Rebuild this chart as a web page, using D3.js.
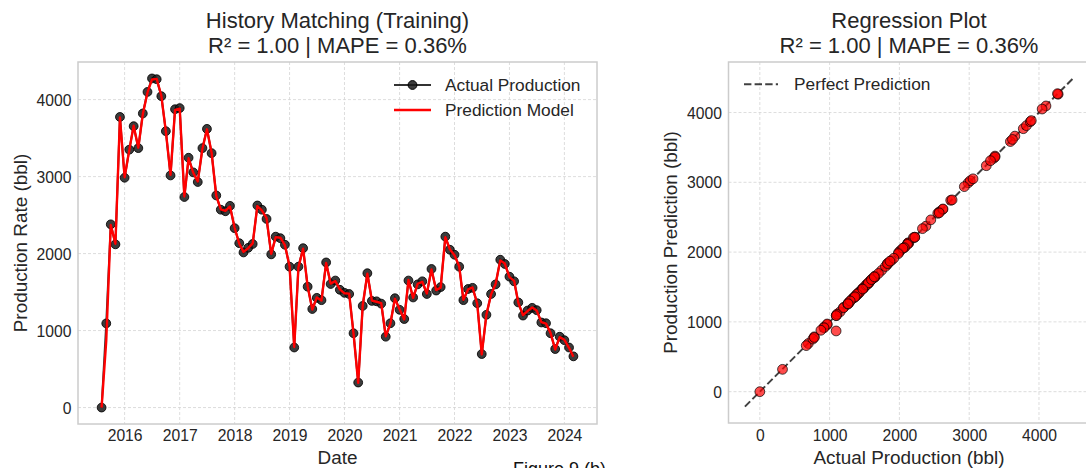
<!DOCTYPE html>
<html>
<head>
<meta charset="utf-8">
<script src="https://cdn.jsdelivr.net/npm/d3@7"></script>
<style>
  html, body { margin: 0; padding: 0; background: #fff; overflow: hidden; }
  svg { display: block; font-family: "Liberation Sans", Arial, sans-serif; }
</style>
</head>
<body>
<svg id="fig" width="1086" height="468"></svg>
<script>
// Monthly production, Aug 2015 – Mar 2024 (bbl)
const actualProduction = [
  0, 1093, 2380, 2120, 3775, 2985, 3350, 3655, 3370, 3820, 4100, 4275, 4265, 4045, 3590, 3015,
  3875, 3890, 2735, 3245, 3055, 2930, 3370, 3620, 3305, 2755, 2570, 2550, 2620, 2330, 2135, 2015,
  2075, 2125, 2625, 2570, 2450, 1990, 2220, 2200, 2115, 1830, 780, 1830, 2070, 1570, 1280, 1425,
  1395, 1885, 1605, 1650, 1530, 1490, 1475, 965, 325, 1320, 1745, 1385, 1380, 1350, 920, 1095,
  1420, 1270, 1150, 1650, 1430, 1600, 1640, 1475, 1800, 1520, 1565, 2220, 2050, 1985, 1830, 1395,
  1540, 1555, 1355, 695, 1205, 1475, 1600, 1920, 1865, 1700, 1640, 1365, 1195, 1260, 1295, 1265,
  1105, 1095, 965, 760, 920, 875, 780, 665
];
const predictedProduction = [
  0, 870, 2372, 2128, 3768, 2992, 3344, 3662, 3376, 3812, 4094, 4262, 4270, 4050, 3584, 3022,
  3868, 3884, 2742, 3238, 3050, 2938, 3362, 3614, 3310, 2748, 2575, 2556, 2612, 2336, 2128, 2022,
  2070, 2132, 2618, 2562, 2462, 1996, 2214, 2206, 2110, 1836, 786, 1824, 2064, 1576, 1274, 1430,
  1390, 1878, 1610, 1644, 1536, 1484, 1480, 960, 320, 1326, 1738, 1390, 1374, 1356, 926, 1090,
  1414, 1276, 1144, 1656, 1424, 1606, 1634, 1481, 1794, 1526, 1558, 2212, 2056, 1978, 1836, 1400,
  1534, 1560, 1348, 690, 1210, 1470, 1606, 1912, 1870, 1694, 1646, 1360, 1200, 1254, 1300, 1260,
  1110, 1090, 970, 754, 915, 880, 776, 660
];
const firstMonth = new Date(2015, 7, 1);
const lastMonth = new Date(2024, 2, 1);
const yearTickLabels = ["2016", "2017", "2018", "2019", "2020", "2021", "2022", "2023", "2024"];
const valueTicks = [0, 1000, 2000, 3000, 4000];
const leftTitle = ["History Matching (Training)", "R\u00b2 = 1.00 | MAPE = 0.36%"];
const rightTitle = ["Regression Plot", "R\u00b2 = 1.00 | MAPE = 0.36%"];

const months = d3.timeMonth.range(firstMonth, d3.timeMonth.offset(lastMonth, 1));
const series = months.map((d, i) => ({ date: d, actual: actualProduction[i], pred: predictedProduction[i] }));

const svg = d3.select("#fig");
const textColor = "#262626";
const gridColor = "#d4d4d4";
const frameColor = "#cccccc";
const font = "Liberation Sans, Arial, sans-serif";

function pad(ext, f = 0.05) {
  const s = ext[1] - ext[0];
  return [ext[0] - s * f, ext[1] + s * f];
}

// ---------- left panel: history match ----------
const L = { x0: 78, x1: 597, y0: 62, y1: 424 };
const tExt = d3.extent(months, d => +d);
const xL = d3.scaleTime().domain(pad(tExt).map(v => new Date(v))).range([L.x0, L.x1]);
const yExt = pad([Math.min(d3.min(actualProduction), d3.min(predictedProduction)),
                  Math.max(d3.max(actualProduction), d3.max(predictedProduction))]);
const yL = d3.scaleLinear().domain(yExt).range([L.y1, L.y0]);

const gL = svg.append("g");
const yearDates = yearTickLabels.map(y => new Date(+y, 0, 1));

gL.append("g").selectAll("line").data(yearDates).join("line")
  .attr("x1", d => xL(d)).attr("x2", d => xL(d))
  .attr("y1", L.y0).attr("y2", L.y1)
  .attr("stroke", gridColor).attr("stroke-width", 0.8).attr("stroke-dasharray", "3,2");
gL.append("g").selectAll("line").data(valueTicks).join("line")
  .attr("x1", L.x0).attr("x2", L.x1)
  .attr("y1", d => yL(d)).attr("y2", d => yL(d))
  .attr("stroke", gridColor).attr("stroke-width", 0.8).attr("stroke-dasharray", "3,2");

gL.append("rect").attr("x", L.x0).attr("y", L.y0)
  .attr("width", L.x1 - L.x0).attr("height", L.y1 - L.y0)
  .attr("fill", "none").attr("stroke", frameColor).attr("stroke-width", 1.5);

// x axis (years)
const xAxisL = d3.axisBottom(xL).tickValues(yearDates).tickFormat((d, i) => yearTickLabels[i]).tickSize(0).tickPadding(0);
gL.append("g").attr("transform", `translate(0,${L.y1})`).call(xAxisL)
  .call(g => g.select(".domain").remove())
  .selectAll("text").attr("y", 16.5).attr("dy", 0)
  .attr("fill", textColor).attr("font-size", 15.7).attr("font-family", font);

const yAxisL = d3.axisLeft(yL).tickValues(valueTicks).tickFormat(d3.format("d")).tickSize(0).tickPadding(0);
gL.append("g").attr("transform", `translate(${L.x0},0)`).call(yAxisL)
  .call(g => g.select(".domain").remove())
  .selectAll("text").attr("x", -6.5).attr("dy", "0.35em")
  .attr("fill", textColor).attr("font-size", 15.7).attr("font-family", font);

// actual production: dark line with circle markers, prediction in red on top
const lineActual = d3.line().x(d => xL(d.date)).y(d => yL(d.actual));
const linePred = d3.line().x(d => xL(d.date)).y(d => yL(d.pred));
gL.append("path").datum(series).attr("d", lineActual)
  .attr("fill", "none").attr("stroke", "#000").attr("stroke-opacity", 0.8).attr("stroke-width", 2);
gL.append("g").selectAll("circle").data(series).join("circle")
  .attr("cx", d => xL(d.date)).attr("cy", d => yL(d.actual)).attr("r", 4.4)
  .attr("fill", "#1a1a1a").attr("fill-opacity", 0.85)
  .attr("stroke", "#000").attr("stroke-opacity", 0.85).attr("stroke-width", 1);
gL.append("path").datum(series).attr("d", linePred)
  .attr("fill", "none").attr("stroke", "#ff0000").attr("stroke-width", 2.4)
  .attr("stroke-linejoin", "round");

// titles and labels
const titleL = gL.append("text").attr("text-anchor", "middle").attr("fill", textColor).attr("font-size", 22);
leftTitle.forEach((t, i) => titleL.append("tspan").attr("x", (L.x0 + L.x1) / 2).attr("y", 28.3 + i * 24.4).text(t));
gL.append("text").attr("x", (L.x0 + L.x1) / 2).attr("y", 464).attr("text-anchor", "middle")
  .attr("fill", textColor).attr("font-size", 18.9).text("Date");
gL.append("text").attr("transform", `translate(27,${(L.y0 + L.y1) / 2}) rotate(-90)`)
  .attr("text-anchor", "middle").attr("fill", textColor).attr("font-size", 18.9).text("Production Rate (bbl)");

// legend
const legL = gL.append("g");
legL.append("line").attr("x1", 394).attr("x2", 431).attr("y1", 85).attr("y2", 85)
  .attr("stroke", "#000").attr("stroke-opacity", 0.8).attr("stroke-width", 2);
legL.append("circle").attr("cx", 412.5).attr("cy", 85).attr("r", 4.4)
  .attr("fill", "#1a1a1a").attr("fill-opacity", 0.85).attr("stroke", "#000").attr("stroke-width", 1);
legL.append("text").attr("x", 445).attr("y", 85).attr("dy", "0.35em").attr("fill", textColor)
  .attr("font-size", 17.3).text("Actual Production");
legL.append("line").attr("x1", 394).attr("x2", 431).attr("y1", 110).attr("y2", 110)
  .attr("stroke", "#ff0000").attr("stroke-width", 2.4);
legL.append("text").attr("x", 445).attr("y", 110).attr("dy", "0.35em").attr("fill", textColor)
  .attr("font-size", 17.3).text("Prediction Model");

// ---------- right panel: regression ----------
const R = { x0: 728.5, y0: 62, y1: 423 };
R.x1 = R.x0 + (R.y1 - R.y0);
const diag = yExt;                  // perfect-prediction line spans the padded value range
const dom = pad(diag);
const xR = d3.scaleLinear().domain(dom).range([R.x0, R.x1]);
const yR = d3.scaleLinear().domain(dom).range([R.y1, R.y0]);

const gR = svg.append("g");
gR.append("g").selectAll("line").data(valueTicks).join("line")
  .attr("x1", d => xR(d)).attr("x2", d => xR(d)).attr("y1", R.y0).attr("y2", R.y1)
  .attr("stroke", gridColor).attr("stroke-width", 0.8).attr("stroke-dasharray", "3,2");
gR.append("g").selectAll("line").data(valueTicks).join("line")
  .attr("x1", R.x0).attr("x2", R.x1).attr("y1", d => yR(d)).attr("y2", d => yR(d))
  .attr("stroke", gridColor).attr("stroke-width", 0.8).attr("stroke-dasharray", "3,2");
gR.append("rect").attr("x", R.x0).attr("y", R.y0)
  .attr("width", R.x1 - R.x0).attr("height", R.y1 - R.y0)
  .attr("fill", "none").attr("stroke", frameColor).attr("stroke-width", 1.5);

const xAxisR = d3.axisBottom(xR).tickValues(valueTicks).tickFormat(d3.format("d")).tickSize(0).tickPadding(0);
gR.append("g").attr("transform", `translate(0,${R.y1})`).call(xAxisR)
  .call(g => g.select(".domain").remove())
  .selectAll("text").attr("y", 17.5).attr("dy", 0)
  .attr("fill", textColor).attr("font-size", 15.7).attr("font-family", font);
const yAxisR = d3.axisLeft(yR).tickValues(valueTicks).tickFormat(d3.format("d")).tickSize(0).tickPadding(0);
gR.append("g").attr("transform", `translate(${R.x0},0)`).call(yAxisR)
  .call(g => g.select(".domain").remove())
  .selectAll("text").attr("x", -6.5).attr("dy", "0.35em")
  .attr("fill", textColor).attr("font-size", 15.7).attr("font-family", font);

gR.append("line")
  .attr("x1", xR(diag[0])).attr("y1", yR(diag[0]))
  .attr("x2", xR(diag[1])).attr("y2", yR(diag[1]))
  .attr("stroke", "#000").attr("stroke-opacity", 0.75).attr("stroke-width", 2)
  .attr("stroke-dasharray", "7.4,3.2");
gR.append("g").selectAll("circle").data(series).join("circle")
  .attr("cx", d => xR(d.actual)).attr("cy", d => yR(d.pred)).attr("r", 4.9)
  .attr("fill", "#ff0000").attr("fill-opacity", 0.7)
  .attr("stroke", "#000").attr("stroke-opacity", 0.7).attr("stroke-width", 1);

const titleR = gR.append("text").attr("text-anchor", "middle").attr("fill", textColor).attr("font-size", 22);
rightTitle.forEach((t, i) => titleR.append("tspan").attr("x", (R.x0 + R.x1) / 2).attr("y", 28.3 + i * 24.4).text(t));
gR.append("text").attr("x", (R.x0 + R.x1) / 2).attr("y", 464).attr("text-anchor", "middle")
  .attr("fill", textColor).attr("font-size", 18.9).text("Actual Production (bbl)");
gR.append("text").attr("transform", `translate(677,${(R.y0 + R.y1) / 2}) rotate(-90)`)
  .attr("text-anchor", "middle").attr("fill", textColor).attr("font-size", 18.9).text("Production Prediction (bbl)");

const legR = gR.append("g");
legR.append("line").attr("x1", 744).attr("x2", 778).attr("y1", 84.3).attr("y2", 84.3)
  .attr("stroke", "#000").attr("stroke-opacity", 0.75).attr("stroke-width", 2).attr("stroke-dasharray", "7.4,3.2");
legR.append("text").attr("x", 794).attr("y", 84.3).attr("dy", "0.35em").attr("fill", textColor)
  .attr("font-size", 17.3).text("Perfect Prediction");

// figure caption along the bottom edge
svg.append("text").attr("x", 513).attr("y", 475).attr("fill", "#111").attr("font-size", 18).text("Figure 9 (b)");
</script>
</body>
</html>
